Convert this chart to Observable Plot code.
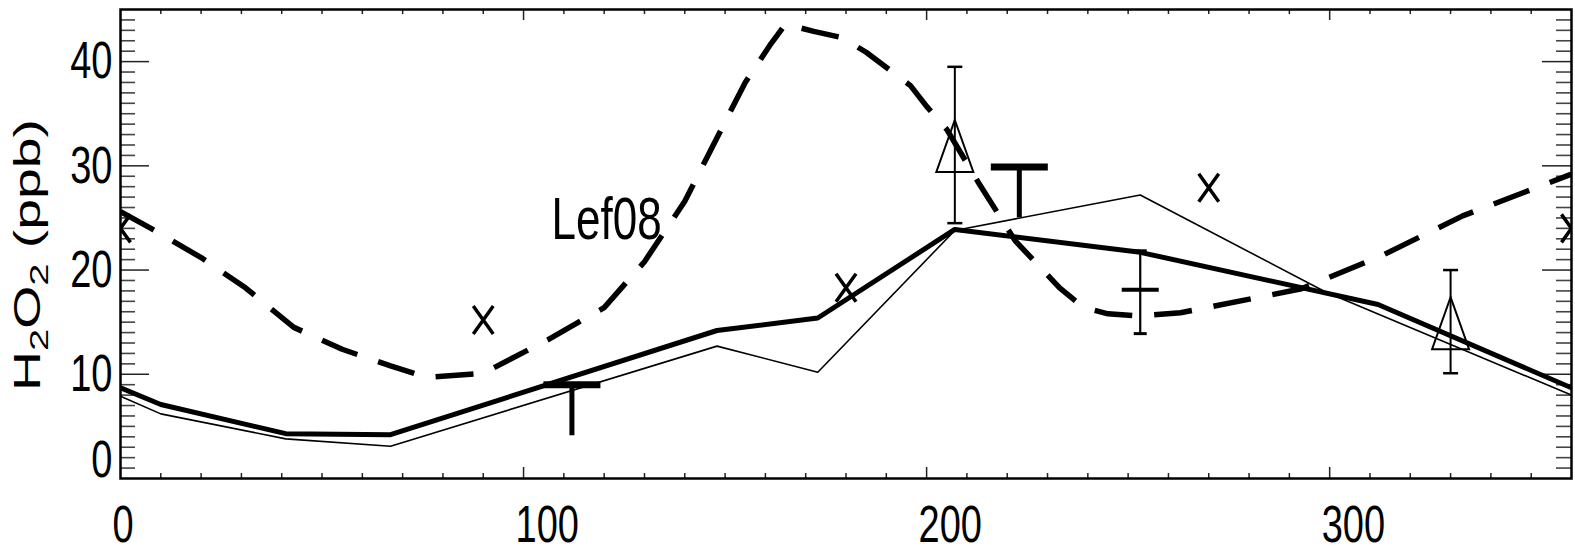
<!DOCTYPE html>
<html><head><meta charset="utf-8">
<script src="https://cdn.jsdelivr.net/npm/d3@7"></script>
<script src="https://cdn.jsdelivr.net/npm/@observablehq/plot@0.6"></script>
<style>body{margin:0;background:#fff;}</style>
</head><body>
<script>
// ---- tick labels ----
const xTicks = [0, 100, 200, 300];
const yTicks = [10, 20, 30, 40];
const yZeroTick = [0];
const yLabel = "H₂O₂ (ppb)";
// pieces of the y label: [text, isSubscript]
const yLabelParts = [["H", false], ["2", true], ["O", false], ["2", true], [" (ppb)", false]];

// ---- thick solid model line ----
const thickX = [0, 10, 41, 67, 148, 173, 207, 253, 312, 360];
const thickY = [8.7, 7.1, 4.3, 4.2, 14.2, 15.4, 23.9, 21.7, 16.7, 8.7];

// ---- thin solid model line ----
const thinX = [0, 10, 41, 67, 148, 173, 207, 253, 299, 360];
const thinY = [7.9, 6.2, 3.8, 3.1, 12.7, 10.2, 23.8, 27.2, 17.9, 8.0];

// ---- dashed Lef08 line ----
const lefX = [0, 8, 20, 31, 43, 55, 67, 76, 90, 106, 120, 130, 135, 140, 148, 155, 161, 165, 172, 179, 185, 196, 200, 205, 213, 222, 233, 239, 245, 253, 263, 293, 313, 333, 360];
const lefY = [25.6, 23.9, 21.2, 18.3, 14.5, 12.4, 10.8, 9.7, 10.1, 13.3, 16.4, 20.8, 23.7, 26.6, 32.7, 38.0, 41.5, 43.6, 42.9, 42.3, 40.9, 37.7, 35.7, 33.5, 28.3, 22.8, 18.3, 16.4, 15.8, 15.6, 15.9, 18.2, 21.4, 25.2, 29.2];
const lefLabelX = [120.6];
const lefLabelY = [24.9];
const lefLabelText = ["Lef08"];

// ---- cross observations ----
const crossX = [0, 90, 180, 270, 360];
const crossY = [24.0, 15.2, 18.3, 27.9, 24.0];

// ---- triangle observations with error bars ----
const triX = [207, 330];
const triY = [31.9, 14.9];
const triLo = [24.5, 10.1];
const triHi = [39.5, 20.0];

// ---- T-shaped observations (value + lower bar) ----
const tX = [112, 223];
const tY = [9.0, 29.9];
const tLo = [4.1, 25.0];

// ---- error-bar observation ----
const ebX = [253];
const ebY = [18.1];
const ebLo = [13.9];
const ebHi = [21.8];

// ---- build tables ----
const pts = (xs, ys) => xs.map((x, i) => ({x, y: ys[i]}));
const thick = pts(thickX, thickY);
const thin = pts(thinX, thinY);
const lef = pts(lefX, lefY);
const crosses = pts(crossX, crossY);
const tris = triX.map((x, i) => ({x, y: triY[i], lo: triLo[i], hi: triHi[i]}));
const tees = tX.map((x, i) => ({x, y: tY[i], lo: tLo[i]}));
const ebs = ebX.map((x, i) => ({x, y: ebY[i], lo: ebLo[i], hi: ebHi[i]}));
const lefLabel = lefLabelX.map((x, i) => ({x, y: lefLabelY[i], t: lefLabelText[i]}));

const W = 1575, H = 554, mT = 9, mB = 76, mL = 120, mR = 4;
const fw = W - mL - mR, fh = H - mT - mB;
const xMinor = d3.range(10, 360, 10).filter(v => v % 100 !== 0);
const yMinor = d3.range(1, 45, 1).filter(v => v % 10 !== 0);
const xMajorInner = [100, 200, 300];
const yMajorInner = [10, 20, 30, 40];

const sym = f => ({draw(ctx) { f(ctx); }});
const crossSym = sym(c => {c.moveTo(-10,-14); c.lineTo(10,14); c.moveTo(10,-14); c.lineTo(-10,14);});
const triSym = sym(c => {c.moveTo(0,-26); c.lineTo(18.5,26); c.lineTo(-18.5,26); c.closePath();});
const capSym = sym(c => {c.moveTo(-7.5,0); c.lineTo(7.5,0);});
const wideBar = sym(c => {c.moveTo(-28.5,0); c.lineTo(28.5,0);});
const meanBar = sym(c => {c.moveTo(-18.5,0); c.lineTo(18.5,0);});
const smallCap = sym(c => {c.moveTo(-6.5,0); c.lineTo(6.5,0);});

const svg = Plot.plot({
  width: W, height: H,
  marginTop: mT, marginBottom: mB, marginLeft: mL, marginRight: mR,
  x: {domain: [0, 360]},
  y: {domain: [0, 45]},
  style: {fontFamily: "'Liberation Sans', Arial, sans-serif", background: "#fff", color: "#000"},
  marks: [
    // inner ticks
    Plot.ruleX(xMinor, {stroke: "#222", strokeWidth: 1.5, insetTop: fh - 5}),
    Plot.ruleX(xMinor, {stroke: "#222", strokeWidth: 1.5, insetBottom: fh - 5}),
    Plot.ruleX(xMajorInner, {stroke: "#222", strokeWidth: 1.5, insetTop: fh - 11}),
    Plot.ruleX(xMajorInner, {stroke: "#222", strokeWidth: 1.5, insetBottom: fh - 11}),
    Plot.ruleY(yMinor, {stroke: "#444", strokeWidth: 1.6, insetRight: fw - 15}),
    Plot.ruleY(yMinor, {stroke: "#444", strokeWidth: 1.6, insetLeft: fw - 15}),
    Plot.ruleY(yMajorInner, {stroke: "#222", strokeWidth: 1.5, insetRight: fw - 29}),
    Plot.ruleY(yMajorInner, {stroke: "#222", strokeWidth: 1.5, insetLeft: fw - 29}),
    // axes labels
    Plot.axisX(xTicks, {anchor: "bottom", tickSize: 0, tickPadding: 32, fontSize: 38, textAnchor: "start", dx: -8, label: null}),
    Plot.axisY(yTicks, {anchor: "left", tickSize: 0, tickPadding: 8, fontSize: 38, label: null}),
    Plot.axisY(yZeroTick, {anchor: "left", tickSize: 0, tickPadding: 8, fontSize: 38, label: null, dy: -18}),
    Plot.text([yLabel], {frameAnchor: "left", dx: -92, rotate: -90, fontSize: 36}),
    // lines
    Plot.line(thin, {x: "x", y: "y", stroke: "#000", strokeWidth: 1.6, clip: "frame"}),
    Plot.line(thick, {x: "x", y: "y", stroke: "#000", strokeWidth: 5, strokeLinejoin: "round", clip: "frame"}),
    Plot.line(lef, {x: "x", y: "y", stroke: "#000", strokeWidth: 5.5, strokeDasharray: "38,22", strokeLinecap: "butt", clip: "frame"}),
    Plot.text(lefLabel, {x: "x", y: "y", text: "t", fontSize: 44}),
    // crosses
    Plot.dot(crosses, {x: "x", y: "y", symbol: crossSym, fill: "none", stroke: "#000", strokeWidth: 3.5, clip: "frame"}),
    // triangles with error bars
    Plot.ruleX(tris, {x: "x", y1: "lo", y2: "hi", stroke: "#000", strokeWidth: 2}),
    Plot.dot(tris, {x: "x", y: "lo", symbol: capSym, fill: "none", stroke: "#000", strokeWidth: 2.5}),
    Plot.dot(tris, {x: "x", y: "hi", symbol: capSym, fill: "none", stroke: "#000", strokeWidth: 2.5}),
    Plot.dot(tris, {x: "x", y: "y", symbol: triSym, fill: "none", stroke: "#000", strokeWidth: 2}),
    // T markers
    Plot.ruleX(tees, {x: "x", y1: "lo", y2: "y", stroke: "#000", strokeWidth: 5}),
    Plot.dot(tees, {x: "x", y: "y", symbol: wideBar, fill: "none", stroke: "#000", strokeWidth: 7}),
    // error bar marker
    Plot.ruleX(ebs, {x: "x", y1: "lo", y2: "hi", stroke: "#000", strokeWidth: 2.2}),
    Plot.dot(ebs, {x: "x", y: "lo", symbol: smallCap, fill: "none", stroke: "#000", strokeWidth: 3}),
    Plot.dot(ebs, {x: "x", y: "hi", symbol: smallCap, fill: "none", stroke: "#000", strokeWidth: 4}),
    Plot.dot(ebs, {x: "x", y: "y", symbol: meanBar, fill: "none", stroke: "#000", strokeWidth: 4}),
    Plot.frame({stroke: "#000", strokeWidth: 2.5})
  ]
});
document.body.append(svg);

// rebuild the y label with real subscripts
const NS = "http://www.w3.org/2000/svg";
let yLabelNode = null;
svg.querySelectorAll("text").forEach(t => {
  if (t.textContent === yLabel) {
    yLabelNode = t;
    t.textContent = "";
    t.setAttribute("text-anchor", "start");
    let shifted = false;
    yLabelParts.forEach(([s, sub]) => {
      const ts = document.createElementNS(NS, "tspan");
      ts.textContent = s;
      if (sub) { ts.setAttribute("font-size", "26"); if (!shifted) { ts.setAttribute("dy", "8"); shifted = true; } }
      else if (shifted) { ts.setAttribute("dy", "-8"); shifted = false; }
      t.append(ts);
    });
  }
});

// vertical stretch of text, as in the original (stretched) figure
const k = 1.36;
const yLabelLength = 272, yLabelShift = 11;
svg.querySelectorAll("text").forEach(t => {
  const b = t.getBBox();
  const tr = t.getAttribute("transform") || "";
  if (t === yLabelNode) {
    const cx = b.x + b.width / 2;
    const kr = yLabelLength / b.width;
    t.setAttribute("transform", `${tr} translate(${-yLabelShift},0) scale(${kr},1) translate(${-cx},0)`);
  } else {
    const cy = b.y + b.height / 2;
    t.setAttribute("transform", `${tr} translate(0,${cy}) scale(1,${k}) translate(0,${-cy})`);
  }
});
</script>
</body></html>
